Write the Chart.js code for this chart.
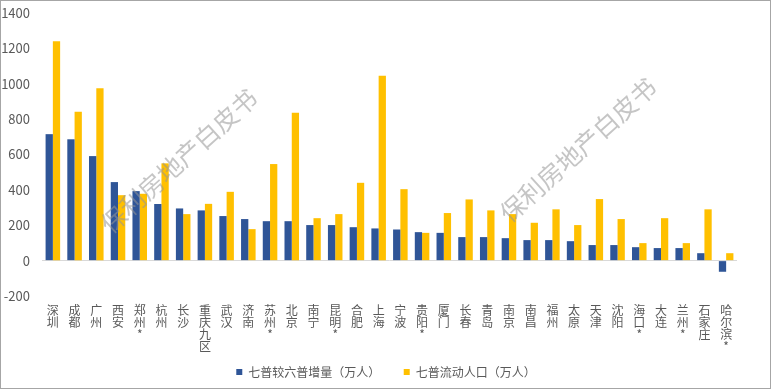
<!DOCTYPE html>
<html>
<head>
<meta charset="utf-8">
<script src="https://cdn.jsdelivr.net/npm/chart.js@4"></script>
<style>
    html, body { margin: 0; padding: 0; background: #fff; }
    #wrap { width: 772px; height: 391px; }
</style>
</head>
<body>
<div id="wrap"><canvas id="chart" width="772" height="391"></canvas></div>
<script>
// cities (asterisk kept as in the source)
const cities = ["深圳", "成都", "广州", "西安", "郑州*", "杭州", "长沙", "重庆九区", "武汉", "济南",
    "苏州*", "北京", "南宁", "昆明*", "合肥", "上海", "宁波", "贵阳*", "厦门", "长春",
    "青岛", "南京", "南昌", "福州", "太原", "天津", "沈阳", "海口*", "大连", "兰州*",
    "石家庄", "哈尔滨*"];
// 七普较六普增量（万人）
const increase = [715, 686, 591, 444, 393, 320, 295, 284, 252, 235,
    223, 223, 201, 201, 189, 182, 176, 161, 157, 133,
    133, 127, 116, 116, 110, 88, 88, 76, 71, 71,
    42, -63];
// 七普流动人口（万人）
const floating = [1240, 842, 975, 370, 378, 550, 263, 321, 389, 178,
    546, 836, 240, 263, 440, 1045, 404, 157, 269, 346,
    284, 263, 214, 290, 201, 348, 235, 99, 240, 99,
    290, 42];
const yTicks = [-200, 0, 200, 400, 600, 800, 1000, 1200, 1400];

const FONT = "'Noto Sans CJK SC', 'Noto Sans', sans-serif";
const TEXT = "#595959";

// each character on its own line, like the vertical category labels
const labels = cities.map(name => name.split(''));

const extras = {
    id: 'extras',
    afterDraw(chart) {
        const ctx = chart.ctx;
        ctx.save();
        // watermark
        ctx.font = "25px " + FONT;
        ctx.fillStyle = "rgba(150,150,150,0.55)";
        ctx.textAlign = "center";
        ctx.textBaseline = "middle";
        [[179, 161], [578, 150]].forEach(p => {
            ctx.save();
            ctx.translate(p[0], p[1]);
            ctx.rotate(-42 * Math.PI / 180);
            ctx.fillText("保利房地产白皮书", 0, 0);
            ctx.restore();
        });
        // frame
        ctx.strokeStyle = "#a6a6a6";
        ctx.lineWidth = 1;
        ctx.strokeRect(0.5, 0.5, 770, 388);
        ctx.restore();
    }
};

const ctx = document.getElementById("chart").getContext("2d");
new Chart(ctx, {
    type: "bar",
    data: {
        labels: labels,
        datasets: [
            {
                label: "七普较六普增量（万人）",
                data: increase,
                backgroundColor: "#2F5597",
                categoryPercentage: 0.67,
                barPercentage: 1.0
            },
            {
                label: "七普流动人口（万人）",
                data: floating,
                backgroundColor: "#FFC000",
                categoryPercentage: 0.67,
                barPercentage: 1.0
            }
        ]
    },
    options: {
        responsive: false,
        animation: false,
        layout: { padding: { left: 0, right: 0, top: 13, bottom: 3 } },
        plugins: {
            tooltip: { enabled: false },
            legend: {
                position: "bottom",
                labels: {
                    font: { family: FONT, size: 12 },
                    color: TEXT,
                    boxWidth: 6,
                    boxHeight: 6,
                    padding: 10,
                    generateLabels: chart => {
                        const items = Chart.defaults.plugins.legend.labels.generateLabels(chart);
                        items.forEach((it, i) => { if (i === 0) it.text = it.text + "     "; });
                        return items;
                    }
                }
            }
        },
        scales: {
            x: {
                grid: { display: false, drawTicks: false },
                border: { display: false },
                afterFit: axis => { axis.height = 60; },
                ticks: {
                    font: { family: FONT, size: 12, lineHeight: 1.02 },
                    color: TEXT,
                    maxRotation: 0,
                    minRotation: 0,
                    autoSkip: false,
                    padding: 8
                }
            },
            y: {
                min: -200,
                max: 1400,
                afterFit: axis => {
                    axis.width = 42;
                    axis.paddingTop = 0;
                    axis.paddingBottom = 0;
                },
                afterBuildTicks: axis => {
                    axis.ticks = yTicks.map(v => ({ value: v }));
                },
                grid: {
                    drawTicks: false,
                    lineWidth: 1,
                    color: c => c.tick && c.tick.value === 0 ? "#d9d9d9" : "rgba(0,0,0,0)"
                },
                border: { display: false },
                ticks: {
                    font: { family: FONT, size: 13 },
                    color: TEXT,
                    padding: 12,
                    callback: v => String(v)
                }
            },
            // empty spacer on the right so the plot ends where the original does
            spacer: {
                position: "right",
                grid: { display: false, drawTicks: false },
                border: { display: false },
                ticks: { display: false },
                afterFit: axis => { axis.width = 35; }
            }
        }
    },
    plugins: [extras]
});
</script>
</body>
</html>
